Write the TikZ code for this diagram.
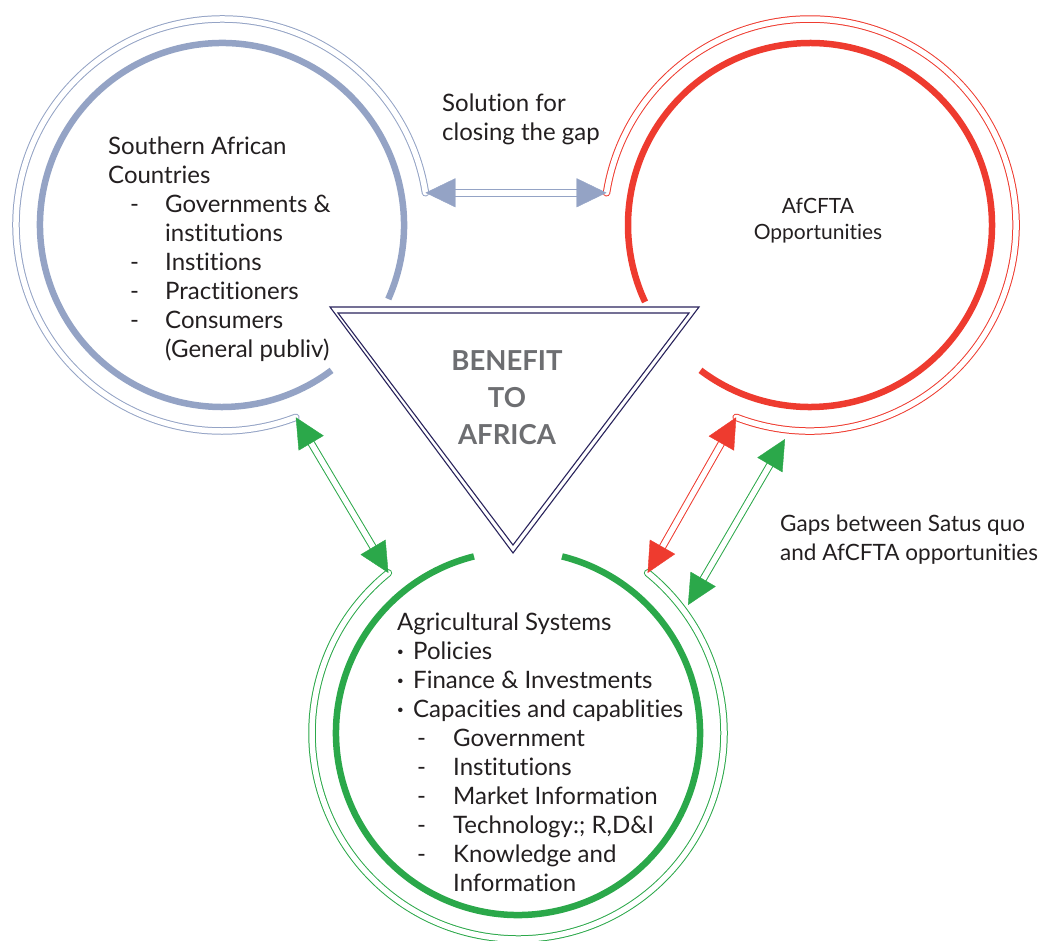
\documentclass[tikz,border=0pt]{standalone}
\usepackage{fontspec}
\setmainfont{Lato}[Ligatures=NoCommon]
\usetikzlibrary{arrows.meta,calc}

\definecolor{sacblue}{HTML}{94A3C5}
\definecolor{afred}{HTML}{EE3B2F}
\definecolor{agreen}{HTML}{2BA84A}
\definecolor{trinavy}{HTML}{29235C}
\definecolor{bodytxt}{HTML}{231F20}
\definecolor{bengray}{HTML}{6D6E71}

% list helpers: dash items and bullets with fixed indents
\newcommand{\sacitem}[1]{\makebox[57pt][l]{\hspace*{22pt}-}#1}
\newcommand{\sacgap}{\hspace*{57pt}}
\newcommand{\agdash}[1]{\makebox[56pt][l]{\hspace*{20pt}-}#1}
\newcommand{\agbul}[1]{\makebox[16pt][l]{\textbf{\textperiodcentered}}#1}
\newcommand{\aggap}{\hspace*{56pt}}

\begin{document}
\begin{tikzpicture}[x=1pt,y=1pt,
  ring/.style={line width=6.5pt},
  halo/.style={line width=1pt, double=white, double distance=5.5pt, line cap=round},
  shaft/.style={line width=1pt, double=white, double distance=5.5pt,
                shorten <=14pt, shorten >=14pt},
  heads/.style={white, line width=0.4pt,
    {Triangle[length=30pt,width=29pt,fill=#1,color=#1]}-{Triangle[length=30pt,width=29pt,fill=#1,color=#1]}},
  body/.style={inner sep=0pt, align=left, text=bodytxt,
               font=\fontsize{24}{29}\selectfont}
]
\useasboundingbox (0,0) rectangle (1048,-940);

% circle centres
\coordinate (sac) at (222,-225);
\coordinate (afc) at (810,-225);
\coordinate (agr) at (518,-733);

% ends of the outer double rings
\coordinate (sacR) at ($(sac)+(9:206)$);
\coordinate (sacB) at ($(sac)+(291:206)$);
\coordinate (afcL) at ($(afc)+(171:206)$);
\coordinate (afcB) at ($(afc)+(249:206)$);
\coordinate (agrL) at ($(agr)+(129:206)$);
\coordinate (agrR) at ($(agr)+(51:206)$);

% free-standing gap arrow
\coordinate (gapA) at (785,-439);
\coordinate (gapB) at (688,-605);

% thick inner rings
\draw[ring, sacblue] ($(sac)+(-24:182)$) arc[start angle=-24, end angle=307, radius=182];
\draw[ring, afred]   ($(afc)+(233:182)$) arc[start angle=233, end angle=565, radius=182];
\draw[ring, agreen]  ($(agr)+(104:182)$) arc[start angle=104, end angle=436, radius=182];

% outer double rings
\draw[halo, sacblue] (sacR) arc[start angle=9, end angle=291, radius=206];
\draw[halo, afred]   (afcB) arc[start angle=249, end angle=531, radius=206];
\draw[halo, agreen]  (agrL) arc[start angle=129, end angle=411, radius=206];

% double-shafted arrows
\draw[shaft, sacblue] (sacR) -- (afcL);
\draw[heads=sacblue]  (sacR) -- (afcL);
\draw[shaft, agreen]  (sacB) -- (agrL);
\draw[heads=agreen]   (sacB) -- (agrL);
\draw[shaft, afred]   (afcB) -- (agrR);
\draw[heads=afred]    (afcB) -- (agrR);
\draw[shaft, agreen]  (gapA) -- (gapB);
\draw[heads=agreen]   (gapA) -- (gapB);

% central triangle (double outline)
\draw[trinavy, line width=1.1pt, line join=miter] (330,-307) -- (699,-307) -- (513,-553) -- cycle;
\draw[trinavy, line width=1.1pt, line join=miter] (338,-313) -- (689,-313) -- (513,-545) -- cycle;
\node[inner sep=0pt, anchor=north, align=center, text=bengray,
      font=\fontsize{27.5}{37}\selectfont\bfseries] (benefit) at (507,-350.3)
  {BENEFIT\\TO\\AFRICA};

% texts
\node[body, anchor=north west] (sactext) at (108,-136.4)
  {Southern African\\Countries\\\sacitem{Governments \&}\\\sacgap institutions\\
   \sacitem{Institions}\\\sacitem{Practitioners}\\\sacitem{Consumers}\\\sacgap(General publiv)};

\node[body, anchor=north west] (soltext) at (442,-93.4) {Solution for\\closing the gap};

\node[body, anchor=north west, font=\fontsize{22.5}{29}\selectfont] (gaptext) at (780,-514.5)
  {Gaps between Satus quo\\and AfCFTA opportunities};

\node[inner sep=0pt, anchor=north, align=center, text=bodytxt,
      font=\fontsize{21}{26}\selectfont] (aftext) at (818,-197.6)
  {AfCFTA\\Opportunities};

\node[body, anchor=north west] (agtext) at (397,-612.4)
  {Agricultural Systems\\\agbul{Policies}\\\agbul{Finance \& Investments}\\
   \agbul{Capacities and capablities}\\\agdash{Government}\\\agdash{Institutions}\\
   \agdash{Market Information}\\\agdash{Technology:; R,D\&I}\\\agdash{Knowledge and}\\
   \aggap Information};
\end{tikzpicture}
\end{document}
